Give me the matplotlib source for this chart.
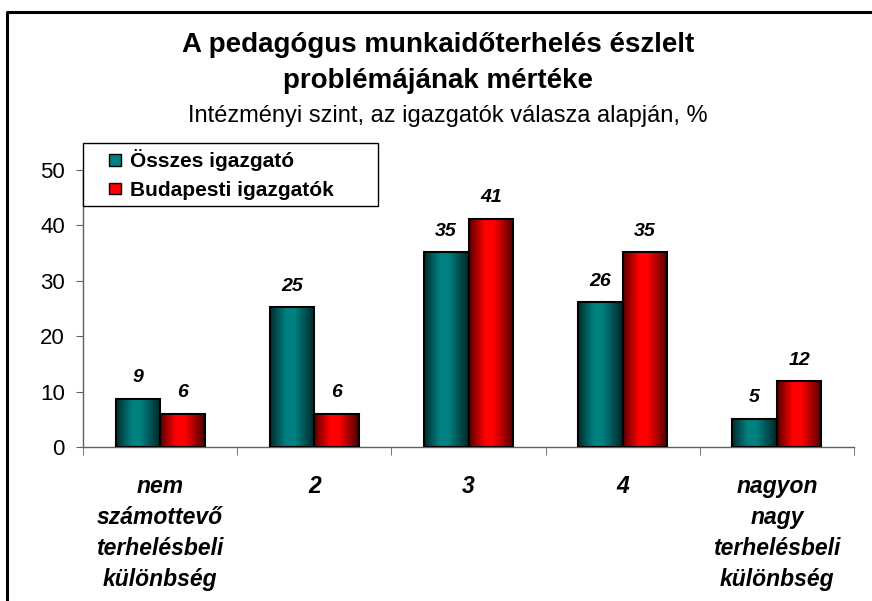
import numpy as np
import matplotlib.pyplot as plt
from matplotlib.patches import Patch, Rectangle
from matplotlib.legend_handler import HandlerPatch
from matplotlib.lines import Line2D
from matplotlib.colors import to_rgb

plt.rcParams['font.family'] = ['Liberation Sans', 'DejaVu Sans']

categories = ['nem\nszámottevő\nterhelésbeli\nkülönbség', '2', '3', '4',
              'nagyon\nnagy\nterhelésbeli\nkülönbség']
osszes = [8.7, 25.3, 35.2, 26.2, 5.1]
budapest = [6.0, 6.0, 41.2, 35.2, 11.9]
series_names = ['Összes igazgató', 'Budapesti igazgatók']
colors = ['#008080', '#ff0000']


def shade(col):
    # horizontal gradient: dark edges, bright just left of centre
    c = np.array(to_rgb(col))
    t = np.linspace(0, 1, 64)
    k = np.interp(t, [0, 0.35, 0.55, 1], [0.35, 1.0, 1.0, 0.3])
    return (c[None, None, :] * k[None, :, None])


def square(legend, orig_handle, xdescent, ydescent, width, height, fontsize):
    # small square pushed to the right end of the handle box
    s = 0.55 * fontsize
    return Rectangle((width - s - xdescent, -ydescent + (height - s) / 2), s, s)


fig = plt.figure(figsize=(8.72, 6.01), dpi=100)
ax = fig.add_axes([83/872, 1-447/601, (854-83)/872, (447-170)/601])

x = np.arange(len(categories))
w = 0.289
for vals, col, off in [(osszes, colors[0], -w/2), (budapest, colors[1], w/2)]:
    bars = ax.bar(x + off, vals, w, facecolor='none', edgecolor='black',
                  linewidth=1.5, zorder=3)
    img = shade(col)
    for b, v in zip(bars, vals):
        x0 = b.get_x()
        ax.imshow(img, extent=[x0, x0 + w, 0, v], aspect='auto', zorder=2,
                  interpolation='bilinear')
        ax.annotate('%.0f' % v, (x0 + w/2, v), xytext=(0, 15),
                    textcoords='offset points', ha='center', va='center',
                    fontsize=14, fontweight='bold', fontstyle='italic')

ax.set_xlim(-0.5, len(categories) - 0.5)
ax.set_ylim(0, 50)
ax.set_yticks(range(0, 51, 10))
ax.tick_params(axis='y', labelsize=16, length=5, color='#606060', pad=8)
ax.set_xticks(x)
ax.set_xticklabels(categories, fontsize=16.5, fontweight='bold',
                   fontstyle='italic', linespacing=1.45)
ax.tick_params(axis='x', length=0, pad=20)
ax.set_xticks(np.arange(len(categories) + 1) - 0.5, minor=True)
ax.tick_params(axis='x', which='minor', length=6, color='#606060')
for s in ['top', 'right']:
    ax.spines[s].set_visible(False)
for s in ['left', 'bottom']:
    ax.spines[s].set_color('#606060')
    ax.spines[s].set_linewidth(1)

handles = [Patch(facecolor=c, edgecolor='black', linewidth=1) for c in colors]
leg = fig.legend(handles, series_names, loc='upper left', mode='expand',
                 bbox_to_anchor=(83/872, 1-207/601, 295/872, 64/601),
                 borderaxespad=0,
                 fancybox=False, framealpha=1, edgecolor='black',
                 prop={'weight': 'bold', 'size': 15},
                 handler_map={Patch: HandlerPatch(patch_func=square)},
                 handlelength=1.5, handleheight=0.7, handletextpad=0.45,
                 borderpad=0.3, labelspacing=0.45)
leg.get_frame().set_linewidth(1)
leg.set_zorder(5)

fig.text(0.502, 1-45/601, 'A pedagógus munkaidőterhelés észlelt',
         ha='center', va='center', fontsize=20, fontweight='bold')
fig.text(0.502, 1-81/601, 'problémájának mértéke',
         ha='center', va='center', fontsize=20, fontweight='bold')
fig.text(448/872, 1-116/601, 'Intézményi szint, az igazgatók válasza alapján, %',
         ha='center', va='center', fontsize=17)

# chart frame (left and top edges visible in the crop)
fig.add_artist(Line2D([7/872, 7/872, 1], [0, 1-12/601, 1-12/601],
                      color='black', linewidth=2.2))

fig.savefig('out.png', dpi=100)
